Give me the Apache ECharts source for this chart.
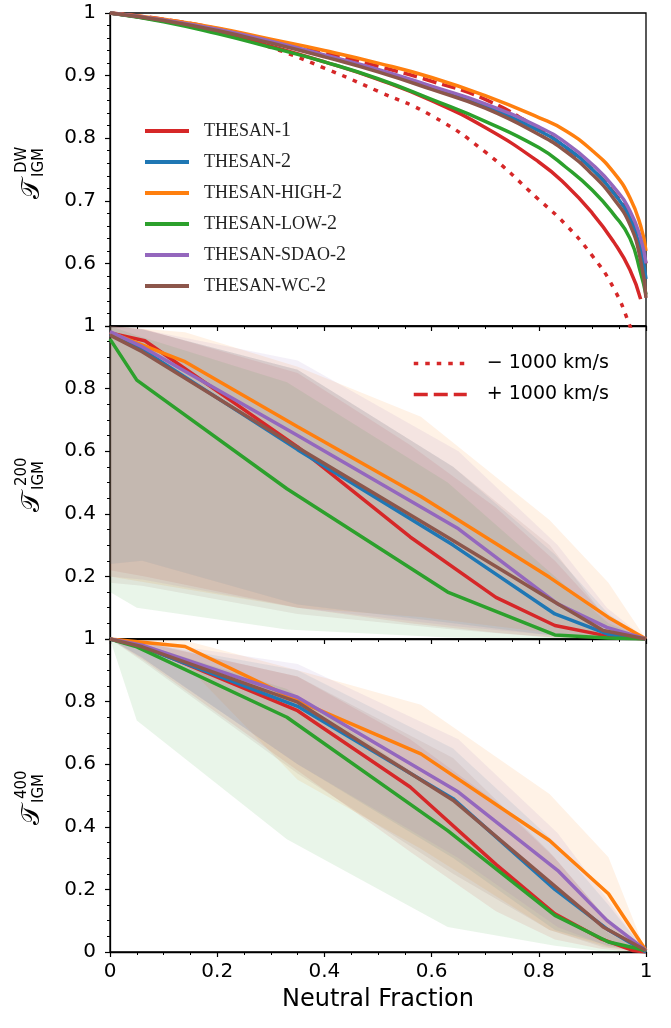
<!DOCTYPE html>
<html>
<head>
<meta charset="utf-8">
<script src="https://cdn.jsdelivr.net/npm/echarts@6/dist/echarts.min.js"></script>
<style>
  html, body { margin: 0; padding: 0; background: #fff; }
  #chart { width: 671px; height: 1028px; }
</style>
</head>
<body>
<div id="chart"></div>
<script>
// simulation names / colours
var simNames = ['THESAN-1', 'THESAN-2', 'THESAN-HIGH-2', 'THESAN-LOW-2', 'THESAN-SDAO-2', 'THESAN-WC-2'];
var simColors = ['#d62728', '#1f77b4', '#ff7f0e', '#2ca02c', '#9467bd', '#8c564b'];
var bandColors = ['rgba(214,39,40,0.1)', 'rgba(31,119,180,0.1)', 'rgba(255,127,14,0.1)',
    'rgba(44,160,44,0.1)', 'rgba(148,103,189,0.1)', 'rgba(140,86,75,0.1)'];

// panel 1: T_IGM^DW vs neutral fraction
var dwX = [0, 0.1, 0.2, 0.3, 0.4, 0.5, 0.6, 0.7, 0.8, 0.85, 0.9, 0.94, 0.97, 0.99, 1];
var dwT1 = [1, 0.987, 0.969, 0.947, 0.922, 0.894, 0.86, 0.817, 0.762, 0.726, 0.68, 0.634, 0.59, 0.543, null];
var dwT2 = [1, 0.988, 0.973, 0.954, 0.932, 0.908, 0.88, 0.851, 0.812, 0.786, 0.75, 0.712, 0.673, 0.62, 0.575];
var dwHigh = [1, 0.99, 0.976, 0.958, 0.94, 0.92, 0.897, 0.868, 0.833, 0.812, 0.78, 0.745, 0.705, 0.66, 0.62];
var dwLow = [1, 0.986, 0.967, 0.945, 0.922, 0.895, 0.862, 0.827, 0.785, 0.754, 0.717, 0.678, 0.64, 0.585, 0.55];
var dwSdao = [1, 0.989, 0.974, 0.955, 0.933, 0.91, 0.883, 0.855, 0.818, 0.793, 0.758, 0.722, 0.684, 0.64, 0.6];
var dwWc = [1, 0.988, 0.972, 0.952, 0.93, 0.906, 0.878, 0.848, 0.806, 0.779, 0.742, 0.703, 0.662, 0.605, 0.545];
var dwMinus = [1, 0.988, 0.97, 0.945, 0.912, 0.875, 0.836, 0.778, 0.702, 0.662, 0.612, 0.56, 0.5, 0.45, 0.42];
var dwPlus = [1, 0.99, 0.975, 0.956, 0.937, 0.915, 0.891, 0.862, 0.815, 0.785, 0.75, 0.713, 0.675, 0.63, 0.6];

// panels 2 and 3: snapshot neutral fractions per run
var xT1 = [0, 0.065, 0.35, 0.56, 0.72, 0.83, 0.915, 0.975, 1];
var xT2 = [0, 0.06, 0.35, 0.64, 0.83, 0.93, 1];
var xHigh = [0, 0.14, 0.35, 0.58, 0.82, 0.93, 1];
var xLow = [0, 0.05, 0.33, 0.63, 0.83, 0.93, 1];
var xSdao = [0, 0.06, 0.35, 0.65, 0.835, 0.927, 1];
var xWc = [0, 0.06, 0.35, 0.64, 0.82, 0.92, 1];

// T_IGM^200 median, lower and upper
var t200T1 = [0.978, 0.953, 0.614, 0.326, 0.133, 0.043, 0.014, 0.003, 0];
var t200T1Lo = [0.22, 0.2, 0.1, 0.05, 0.02, 0.005, 0, 0, 0];
var t200T1Hi = [1, 0.99, 0.85, 0.62, 0.42, 0.25, 0.09, 0.02, 0];
var t200T2 = [0.975, 0.925, 0.605, 0.3, 0.08, 0.015, 0];
var t200T2Lo = [0.24, 0.25, 0.11, 0.05, 0.01, 0, 0];
var t200T2Hi = [1, 0.99, 0.86, 0.55, 0.27, 0.08, 0];
var t200High = [0.98, 0.886, 0.678, 0.455, 0.197, 0.069, 0];
var t200HighLo = [0.2, 0.16, 0.1, 0.07, 0.02, 0.005, 0];
var t200HighHi = [1, 0.98, 0.87, 0.71, 0.38, 0.18, 0];
var t200Low = [0.958, 0.827, 0.48, 0.15, 0.013, 0.003, 0];
var t200LowLo = [0.15, 0.1, 0.03, 0.005, 0, 0, 0];
var t200LowHi = [1, 0.97, 0.82, 0.5, 0.2, 0.05, 0];
var t200Sdao = [0.982, 0.934, 0.65, 0.352, 0.112, 0.037, 0];
var t200SdaoLo = [0.2, 0.19, 0.1, 0.04, 0.01, 0, 0];
var t200SdaoHi = [1, 0.99, 0.89, 0.6, 0.3, 0.1, 0];
var t200Wc = [0.971, 0.918, 0.612, 0.315, 0.128, 0.027, 0];
var t200WcLo = [0.18, 0.17, 0.08, 0.03, 0.005, 0, 0];
var t200WcHi = [1, 0.99, 0.86, 0.55, 0.3, 0.08, 0];

// T_IGM^400 median, lower and upper
var t400T1 = [1, 0.975, 0.771, 0.527, 0.28, 0.122, 0.043, 0.005, 0];
var t400T1Lo = [1, 0.93, 0.58, 0.32, 0.13, 0.04, 0.01, 0, 0];
var t400T1Hi = [1, 0.99, 0.88, 0.68, 0.48, 0.3, 0.13, 0.03, 0];
var t400T2 = [1, 0.975, 0.785, 0.49, 0.2, 0.07, 0];
var t400T2Lo = [1, 0.94, 0.6, 0.3, 0.07, 0.02, 0];
var t400T2Hi = [1, 0.99, 0.9, 0.65, 0.35, 0.15, 0];
var t400High = [1, 0.976, 0.803, 0.633, 0.356, 0.186, 0.005];
var t400HighLo = [1, 0.92, 0.55, 0.33, 0.07, 0.015, 0];
var t400HighHi = [1, 0.995, 0.9, 0.79, 0.505, 0.303, 0];
var t400Low = [1, 0.975, 0.75, 0.388, 0.117, 0.032, 0.005];
var t400LowLo = [1, 0.74, 0.36, 0.08, 0.02, 0, 0];
var t400LowHi = [1, 0.99, 0.84, 0.5, 0.2, 0.06, 0];
var t400Sdao = [1, 0.98, 0.814, 0.511, 0.261, 0.101, 0.005];
var t400SdaoLo = [1, 0.94, 0.6, 0.3, 0.08, 0.02, 0];
var t400SdaoHi = [1, 0.995, 0.92, 0.68, 0.38, 0.17, 0];
var t400Wc = [1, 0.975, 0.798, 0.485, 0.225, 0.08, 0.005];
var t400WcLo = [1, 0.93, 0.57, 0.25, 0.07, 0.015, 0];
var t400WcHi = [1, 0.99, 0.88, 0.62, 0.32, 0.12, 0];

var simX = [xT1, xT2, xHigh, xLow, xSdao, xWc];
var p2Mid = [t200T1, t200T2, t200High, t200Low, t200Sdao, t200Wc];
var p2Lo = [t200T1Lo, t200T2Lo, t200HighLo, t200LowLo, t200SdaoLo, t200WcLo];
var p2Hi = [t200T1Hi, t200T2Hi, t200HighHi, t200LowHi, t200SdaoHi, t200WcHi];
var p3Mid = [t400T1, t400T2, t400High, t400Low, t400Sdao, t400Wc];
var p3Lo = [t400T1Lo, t400T2Lo, t400HighLo, t400LowLo, t400SdaoLo, t400WcLo];
var p3Hi = [t400T1Hi, t400T2Hi, t400HighHi, t400LowHi, t400SdaoHi, t400WcHi];
var p1Mid = [dwT1, dwT2, dwHigh, dwLow, dwSdao, dwWc];

function pairs(xs, ys) {
    return xs.map(function (x, i) { return [x, ys[i]]; });
}

var chart = echarts.init(document.getElementById('chart'));

var FONT = 'DejaVu Sans';
var LW = 3.5;

function fmt(v) {
    if (Math.abs(v - 1) < 1e-9) return '1';
    if (Math.abs(v) < 1e-9) return '0';
    return v.toFixed(1);
}

function xAxisCfg(idx, labels) {
    return {
        type: 'value', gridIndex: idx, min: 0, max: 1, interval: 0.2,
        axisLine: { onZero: false, lineStyle: { color: '#000', width: 1.3 } },
        axisTick: { inside: false, length: 5, lineStyle: { color: '#000', width: 1.2 } },
        minorTick: { show: true, splitNumber: 4, length: 3, lineStyle: { color: '#000', width: 1 } },
        splitLine: { show: false },
        axisLabel: { show: labels, formatter: fmt, fontFamily: FONT, fontSize: 20, color: '#000', margin: 10 },
        name: labels ? 'Neutral Fraction' : '',
        nameLocation: 'middle', nameGap: 36,
        nameTextStyle: { fontFamily: FONT, fontSize: 24, color: '#000' }
    };
}

function yAxisCfg(idx, min, interval, minorSplit) {
    return {
        type: 'value', gridIndex: idx, min: min, max: 1, interval: interval,
        axisLine: { onZero: false, lineStyle: { color: '#000', width: 1.3 } },
        axisTick: { inside: false, length: 5, lineStyle: { color: '#000', width: 1.2 } },
        minorTick: { show: true, splitNumber: minorSplit, length: 3, lineStyle: { color: '#000', width: 1 } },
        splitLine: { show: false },
        axisLabel: { formatter: fmt, fontFamily: FONT, fontSize: 20, color: '#000', margin: 14,
            showMinLabel: idx === 2 }
    };
}

function bandSeries(idx, xs, lo, hi, color) {
    return {
        type: 'custom', xAxisIndex: idx, yAxisIndex: idx, silent: true, z: 1,
        data: [[0, 0]],
        renderItem: function (params, api) {
            var pts = [];
            for (var i = 0; i < xs.length; i++) pts.push(api.coord([xs[i], hi[i]]));
            for (var j = xs.length - 1; j >= 0; j--) pts.push(api.coord([xs[j], lo[j]]));
            return { type: 'polygon', shape: { points: pts }, style: { fill: color } };
        }
    };
}

function lineSeries(idx, name, data, color, type, smooth) {
    return {
        type: 'line', name: name, xAxisIndex: idx, yAxisIndex: idx,
        data: data, showSymbol: false, symbol: 'none', smooth: smooth ? 0.5 : false,
        lineStyle: { color: color, width: LW, type: type || 'solid', cap: 'butt' },
        itemStyle: { color: color }, z: 3
    };
}

var series = [];
// panel 1
series.push(lineSeries(0, '\u2212 1000 km/s', pairs(dwX, dwMinus), '#d62728', [4.5, 7], true));
series.push(lineSeries(0, '+ 1000 km/s', pairs(dwX, dwPlus), '#d62728', [14, 6], true));
for (var s = 0; s < 6; s++) {
    series.push(lineSeries(0, simNames[s], pairs(dwX, p1Mid[s]), simColors[s], 'solid', true));
}
// panels 2 and 3: bands first, then median lines
for (s = 0; s < 6; s++) {
    series.push(bandSeries(1, simX[s], p2Lo[s], p2Hi[s], bandColors[s]));
    series.push(bandSeries(2, simX[s], p3Lo[s], p3Hi[s], bandColors[s]));
}
for (s = 0; s < 6; s++) {
    series.push(lineSeries(1, simNames[s], pairs(simX[s], p2Mid[s]), simColors[s], 'solid', false));
    series.push(lineSeries(2, simNames[s], pairs(simX[s], p3Mid[s]), simColors[s], 'solid', false));
}

function yTitle(sup, cy) {
    return {
        type: 'group', x: 32, y: cy + 30, rotation: Math.PI / 2,
        children: [
            { type: 'text', x: 0, y: 0, style: { text: '\uD835\uDCAF', font: '26px "DejaVu Sans"', fill: '#000',
                textVerticalAlign: 'middle', verticalAlign: 'middle' } },
            { type: 'text', x: 26, y: -10, style: { text: sup, font: '15px "DejaVu Sans"', fill: '#000',
                textVerticalAlign: 'middle', verticalAlign: 'middle' } },
            { type: 'text', x: 22, y: 7, style: { text: 'IGM', font: '15px "DejaVu Sans"', fill: '#000',
                textVerticalAlign: 'middle', verticalAlign: 'middle' } }
        ]
    };
}

var option = {
    backgroundColor: '#fff',
    animation: false,
    grid: [
        { left: 110, right: 25, top: 13, height: 313, show: true, borderColor: '#000', borderWidth: 1.3 },
        { left: 110, right: 25, top: 326, height: 313, show: true, borderColor: '#000', borderWidth: 1.3 },
        { left: 110, right: 25, top: 639, height: 313, show: true, borderColor: '#000', borderWidth: 1.3 }
    ],
    xAxis: [xAxisCfg(0, false), xAxisCfg(1, false), xAxisCfg(2, true)],
    yAxis: [yAxisCfg(0, 0.5, 0.1, 5), yAxisCfg(1, 0, 0.2, 4), yAxisCfg(2, 0, 0.2, 4)],
    legend: [{
        data: simNames, orient: 'vertical', left: 143, top: 121, padding: 0,
        itemWidth: 44, itemHeight: 14, itemGap: 11, selectedMode: false,
        itemStyle: { opacity: 0 },
        lineStyle: { width: 4 },
        formatter: function (name) {
            var k = name.lastIndexOf('-');
            return '{c|' + name.slice(0, k + 1) + '}{n|' + name.slice(k + 1) + '}';
        },
        textStyle: {
            padding: [0, 0, 0, 10],
            rich: {
                c: { fontFamily: 'Liberation Serif', fontSize: 18, color: '#222' },
                n: { fontFamily: 'Liberation Serif', fontSize: 20, color: '#222' }
            }
        }
    }, {
        data: ['\u2212 1000 km/s', '+ 1000 km/s'], orient: 'vertical', left: 412, top: 354, padding: 0,
        itemWidth: 53, itemHeight: 14, itemGap: 12, selectedMode: false,
        itemStyle: { opacity: 0 },
        lineStyle: { width: 3.5 },
        textStyle: { fontFamily: FONT, fontSize: 19, color: '#000', padding: [0, 0, 0, 15] }
    }],
    graphic: [yTitle('DW', 169), yTitle('200', 482), yTitle('400', 795)],
    series: series
};

chart.setOption(option);
</script>
</body>
</html>
